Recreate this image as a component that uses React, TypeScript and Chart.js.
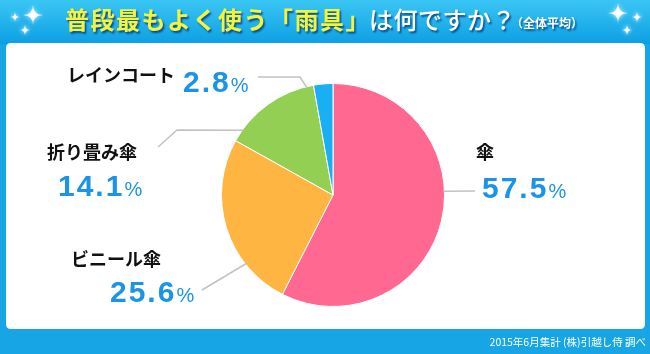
import React, { useEffect, useRef } from "react";
import { Chart, registerables } from "chart.js";

Chart.register(...registerables);

const categories = ["傘", "ビニール傘", "折り畳み傘", "レインコート"];
const values = [57.5, 25.6, 14.1, 2.8];
const sliceColors = ["#ff6890", "#ffb542", "#93cf52", "#18b0f2"];
const titleMain = "普段最もよく使う「雨具」";
const titleRest = "は何ですか？";
const titleNote = "（全体平均）";
const footer = "2015年6月集計 (株)引越し侍 調べ";

// label layout (positions only): name pos, value pos, leader polyline, end angle on pie (deg clockwise from top)
const labelLayout = [
  { nx: 476, ny: 159, vx: 482, vy: 198, pts: [[475, 191]], ang: 88 },
  { nx: 71, ny: 266, vx: 110, vy: 302, pts: [[202, 290]], ang: -128.3 },
  { nx: 47, ny: 159, vx: 58, vy: 196, pts: [[158, 147], [177, 130]], ang: -54.2 },
  { nx: 67, ny: 82, vx: 183, vy: 92, pts: [[258, 77], [300, 77]], ang: -13.7 },
];

const JP = "'Noto Sans CJK JP', 'Noto Sans', sans-serif";

function star(ctx: CanvasRenderingContext2D, x: number, y: number, r: number) {
  ctx.beginPath();
  ctx.moveTo(x, y - r);
  ctx.quadraticCurveTo(x, y, x + r, y);
  ctx.quadraticCurveTo(x, y, x, y + r);
  ctx.quadraticCurveTo(x, y, x - r, y);
  ctx.quadraticCurveTo(x, y, x, y - r);
  ctx.closePath();
  ctx.fill();
}

const framePlugin = {
  id: "frame",
  beforeDraw(chart: any) {
    const ctx: CanvasRenderingContext2D = chart.ctx;
    const W = chart.width;
    const H = chart.height;
    ctx.save();
    ctx.fillStyle = "#17a5e6";
    ctx.fillRect(0, 0, W, H);
    const g = ctx.createLinearGradient(0, 0, 0, 44);
    g.addColorStop(0, "#3ac6f4");
    g.addColorStop(1, "#0c9fe3");
    ctx.fillStyle = g;
    ctx.fillRect(0, 0, W, 44);
    // white panel
    ctx.fillStyle = "#ffffff";
    ctx.beginPath();
    const x0 = 6, y0 = 43, x1 = 645, y1 = 329, r = 5;
    ctx.moveTo(x0 + r, y0);
    ctx.lineTo(x1 - r, y0);
    ctx.quadraticCurveTo(x1, y0, x1, y0 + r);
    ctx.lineTo(x1, y1 - r);
    ctx.quadraticCurveTo(x1, y1, x1 - r, y1);
    ctx.lineTo(x0 + r, y1);
    ctx.quadraticCurveTo(x0, y1, x0, y1 - r);
    ctx.lineTo(x0, y0 + r);
    ctx.quadraticCurveTo(x0, y0, x0 + r, y0);
    ctx.fill();

    // sparkles
    ctx.fillStyle = "#ffffff";
    ctx.shadowColor = "rgba(255,255,255,0.9)";
    ctx.shadowBlur = 4;
    star(ctx, 33, 15, 10);
    star(ctx, 15, 17, 5);
    star(ctx, 25, 30, 5.5);
    star(ctx, 618, 13, 10);
    star(ctx, 637, 17, 5.5);
    star(ctx, 627, 30, 5.5);
    ctx.shadowBlur = 0;

    // title
    ctx.textBaseline = "alphabetic";
    ctx.textAlign = "left";
    ctx.shadowColor = "rgba(0,40,110,0.75)";
    ctx.shadowOffsetX = 1.5;
    ctx.shadowOffsetY = 1.5;
    ctx.shadowBlur = 2;
    ctx.font = `bold 24px ${JP}`;
    (ctx as any).letterSpacing = "1.5px";
    ctx.fillStyle = "#f4f43a";
    ctx.fillText(titleMain, 65, 29);
    ctx.fillStyle = "#ffffff";
    ctx.font = `500 24px ${JP}`;
    (ctx as any).letterSpacing = "0.5px";
    ctx.fillText(titleRest, 369, 29);
    (ctx as any).letterSpacing = "0px";
    ctx.font = `bold 12px ${JP}`;
    ctx.fillText(titleNote, 511, 28);
    ctx.shadowColor = "transparent";
    ctx.shadowOffsetX = 0;
    ctx.shadowOffsetY = 0;
    ctx.shadowBlur = 0;

    // footer
    ctx.font = `10.5px ${JP}`;
    ctx.fillStyle = "#ffffff";
    ctx.textAlign = "right";
    ctx.fillText(footer, 646, 346);
    ctx.restore();
  },
  afterDraw(chart: any) {
    const ctx: CanvasRenderingContext2D = chart.ctx;
    const meta = chart.getDatasetMeta(0);
    ctx.save();
    labelLayout.forEach((L, i) => {
      const arc: any = meta.data[i];
      const cx = arc.x, cy = arc.y, rr = arc.outerRadius - 1;
      const a = (L.ang * Math.PI) / 180;
      const ex = cx + rr * Math.sin(a);
      const ey = cy - rr * Math.cos(a);
      ctx.strokeStyle = "#c2c2c2";
      ctx.lineWidth = 1.5;
      ctx.beginPath();
      ctx.moveTo(L.pts[0][0], L.pts[0][1]);
      for (let k = 1; k < L.pts.length; k++) ctx.lineTo(L.pts[k][0], L.pts[k][1]);
      ctx.lineTo(ex, ey);
      ctx.stroke();

      ctx.textAlign = "left";
      ctx.textBaseline = "alphabetic";
      ctx.fillStyle = "#111111";
      ctx.font = `bold 18px ${JP}`;
      ctx.fillText(categories[i], L.nx, L.ny);

      const txt = values[i].toFixed(1);
      ctx.fillStyle = "#1a94e6";
      ctx.font = "bold 30px 'Liberation Sans', Arial, sans-serif";
      (ctx as any).letterSpacing = "2px";
      ctx.fillText(txt, L.vx, L.vy);
      const w = ctx.measureText(txt).width;
      (ctx as any).letterSpacing = "0px";
      ctx.font = "20px 'Liberation Sans', Arial, sans-serif";
      ctx.fillText("%", L.vx + w, L.vy);
    });
    ctx.restore();
  },
};

export default function App() {
  const ref = useRef<HTMLCanvasElement | null>(null);
  useEffect(() => {
    if (!ref.current) return;
    const chart = new Chart(ref.current, {
      type: "pie",
      data: {
        labels: categories,
        datasets: [
          {
            data: values,
            backgroundColor: sliceColors,
            borderColor: "#ffffff",
            borderWidth: 1,
          },
        ],
      },
      options: {
        responsive: false,
        animation: false,
        events: [],
        layout: { padding: { left: 221, right: 205, top: 83, bottom: 47 } },
        plugins: { legend: { display: false }, tooltip: { enabled: false } },
      },
      plugins: [framePlugin],
    });
    return () => chart.destroy();
  }, []);
  return (
    <div style={{ position: "absolute", left: 0, top: 0, width: 650, height: 354 }}>
      <canvas ref={ref} width={650} height={354} style={{ width: 650, height: 354 }} />
    </div>
  );
}
